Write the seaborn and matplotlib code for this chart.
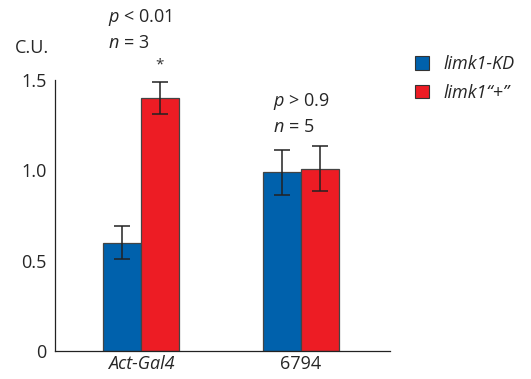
import matplotlib
matplotlib.use("Agg")
import matplotlib.pyplot as plt
import seaborn as sns
import pandas as pd
import numpy as np
from matplotlib.patches import Patch

genotypes = ["Act-Gal4", "6794"]
lines = ["limk1-KD", "limk1\u201c+\u201d"]
kd_values = [0.60, 0.99]
plus_values = [1.40, 1.01]
kd_err = [0.09, 0.125]
plus_err = [0.09, 0.125]
yticks = [0, 0.5, 1.0, 1.5]
ytick_labels = ["0", "0.5", "1.0", "1.5"]

sns.set_style("white")
plt.rcParams['font.family'] = ['Open Sans', 'DejaVu Sans']
plt.rcParams['mathtext.fontset'] = 'custom'
plt.rcParams['mathtext.it'] = 'Open Sans:italic'
plt.rcParams['mathtext.rm'] = 'Open Sans'

FS = 13
colors = ["#0061AC", "#ED1C24"]
edge = "#444444"

df = pd.DataFrame({
    "genotype": genotypes * 2,
    "line": [lines[0]] * 2 + [lines[1]] * 2,
    "value": kd_values + plus_values,
    "err": kd_err + plus_err,
})

fig = plt.figure(figsize=(5.31, 3.79), dpi=100)
ax = fig.add_axes([55/531, 28/379, 335/531, 271/379])

sns.barplot(data=df, x="genotype", y="value", hue="line", order=genotypes,
            hue_order=lines, palette=colors, width=0.475, gap=0,
            errorbar=None, ax=ax, edgecolor=edge, linewidth=0.9,
            legend=False, saturation=1)

patches = [p for p in ax.patches]
for p, (_, row) in zip(patches, df.iterrows()):
    cx = p.get_x() + p.get_width() / 2
    h = p.get_height()
    ax.errorbar(cx, h, yerr=row["err"], fmt="none", ecolor="#222222",
                elinewidth=1.1, capsize=5.5, capthick=1.1, zorder=5)

ax.set_xlim(-0.5375, 1.556)
ax.set_ylim(0, 1.5)
ax.set_yticks(yticks)
ax.set_yticklabels(ytick_labels)
ax.tick_params(axis="y", direction="in", length=4, width=0.8, color="#222222",
               labelsize=FS, pad=6)
ax.tick_params(axis="x", length=0, labelsize=FS, pad=3)
for lab in ax.get_xticklabels():
    if lab.get_text() == "Act-Gal4":
        lab.set_fontstyle("italic")
ax.set_xlabel("")
ax.set_ylabel("")
for s in ["top", "right"]:
    ax.spines[s].set_visible(False)
for s in ["left", "bottom"]:
    ax.spines[s].set_color("#222222")
    ax.spines[s].set_linewidth(0.9)

fig.text(15/531, 1 - 48/379, "C.U.", fontsize=FS, ha="left", va="center")

fig.text(108/531, 1 - 18/379, r"$\it{p}$ < 0.01", fontsize=FS, ha="left", va="center")
fig.text(108/531, 1 - 43/379, r"$\it{n}$ = 3", fontsize=FS, ha="left", va="center")
fig.text(160/531, 1 - 65/379, "*", fontsize=11, ha="center", va="center", color="#333333")
fig.text(273/531, 1 - 102/379, r"$\it{p}$ > 0.9", fontsize=FS, ha="left", va="center")
fig.text(273/531, 1 - 127/379, r"$\it{n}$ = 5", fontsize=FS, ha="left", va="center")

handles = [Patch(facecolor=c, edgecolor="#333333", linewidth=0.8) for c in colors]
leg = fig.legend(handles, lines, loc="upper left", bbox_to_anchor=(408/531, 1 - 48/379),
                 frameon=False, handlelength=0.75, handleheight=0.75, handletextpad=0.8,
                 labelspacing=0.6, fontsize=FS, borderaxespad=0)
for t in leg.get_texts():
    t.set_fontstyle("italic")

fig.savefig("out.png", dpi=100)
